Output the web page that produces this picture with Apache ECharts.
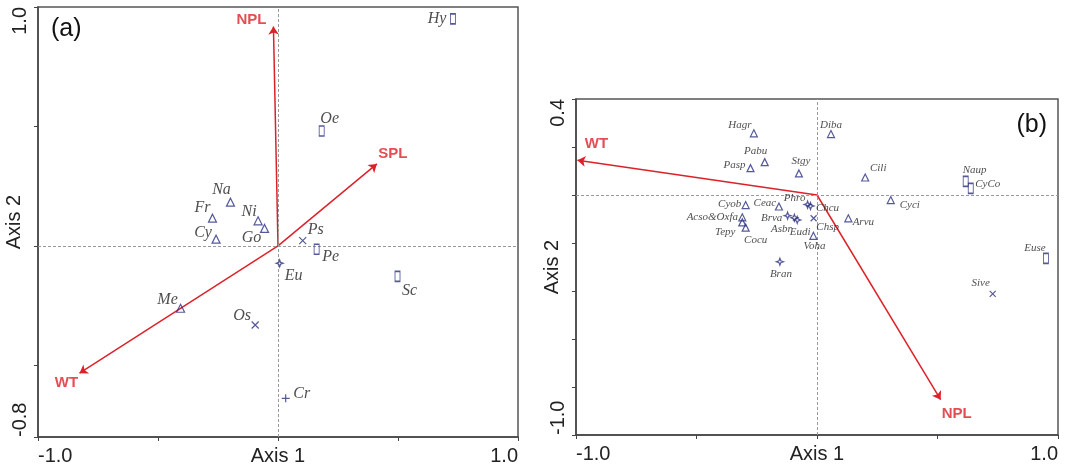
<!DOCTYPE html>
<html><head><meta charset="utf-8">
<script src="https://cdn.jsdelivr.net/npm/echarts@6/dist/echarts.min.js"></script>
<style>html,body{margin:0;padding:0;background:#fff}#c{width:1067px;height:470px}</style>
</head><body><div id="c"></div>
<script>
// ---------- Panel (a) data ----------
const aTriNames = ['Na','Fr','Ni','Go','Cy','Me'];
const aTriX = [-0.198,-0.273,-0.083,-0.056,-0.258,-0.406];
const aTriY = [0.183,0.116,0.105,0.073,0.028,-0.261];
const aRectNames = ['Hy','Oe','Pe','Sc'];
const aRectX = [0.729,0.182,0.161,0.498];
const aRectY = [0.950,0.481,-0.014,-0.128];
const aCrossNames = ['Ps','Os'];
const aCrossX = [0.103,-0.095];
const aCrossY = [0.022,-0.331];
const aStarNames = ['Eu'];
const aStarX = [0.007];
const aStarY = [-0.073];
const aPlusNames = ['Cr'];
const aPlusX = [0.032];
const aPlusY = [-0.638];
const aArrowNames = ['NPL','SPL','WT'];
const aArrowX = [-0.019,0.412,-0.827];
const aArrowY = [0.918,0.343,-0.533];
const aXTicks = [-1.0,-0.5,0,0.5,1.0];
const aYTicks = [-0.8,-0.5,0,0.5,1.0];
const aXTickLabels = [-1.0,1.0];
const aYTickLabels = [-0.8,1.0];

// ---------- Panel (b) data ----------
const bTriNames = ['Hagr','Diba','Pabu','Pasp','Stgy','Cili','Cyci','Cyob','Ceac','Acso&Oxfa','Tepy','Cocu','Voha','Arvu'];
const bTriX = [-0.262,0.058,-0.217,-0.276,-0.075,0.200,0.306,-0.296,-0.158,-0.310,-0.310,-0.296,-0.015,0.130];
const bTriY = [0.257,0.254,0.137,0.112,0.090,0.073,-0.021,-0.042,-0.048,-0.093,-0.114,-0.136,-0.170,-0.097];
const bRectNames = ['Naup','CyCo','Euse'];
const bRectX = [0.617,0.638,0.950];
const bRectY = [0.057,0.028,-0.264];
const bCrossNames = ['Chsp','Sive'];
const bCrossX = [-0.014,0.729];
const bCrossY = [-0.097,-0.412];
const bStarNames = ['Phro','Chcu','Brva','Asbr','Eudi','Bran'];
const bStarX = [-0.039,-0.027,-0.122,-0.094,-0.082,-0.154];
const bStarY = [-0.040,-0.046,-0.086,-0.095,-0.104,-0.278];
const bArrowNames = ['WT','NPL'];
const bArrowX = [-0.994,0.513];
const bArrowY = [0.145,-0.853];
const bXTicks = [-1.0,-0.5,0,0.5,1.0];
const bYTicks = [-1.0,-0.8,-0.6,-0.4,-0.2,0,0.2,0.4];
const bXTickLabels = [-1.0,1.0];
const bYTickLabels = [-1.0,0.4];

// ---------- label placement (style) ----------
const labelOffset = {
  Hy:[-16,0], Oe:[8,-12], Na:[-9,-12], Fr:[-10,-10], Ni:[-9,-9], Go:[-13,9], Cy:[-13,-6],
  Ps:[13,-11], Pe:[14,8], Eu:[14,12], Sc:[12,14], Me:[-13,-8], Os:[-13,-9], Cr:[16,-5],
  Hagr:[-14,-8], Diba:[0,-9], Pabu:[-9,-11], Pasp:[-16,-3], Stgy:[2,-12], Cili:[13,-9],
  Cyci:[19,5], Cyob:[-16,-1], Ceac:[-14,-3], Phro:[-13,-6], Chcu:[17,2], 'Acso&Oxfa':[-30,0],
  Tepy:[-17,10], Cocu:[10,12], Brva:[-16,2], Asbr:[-13,11], Eudi:[3,12], Chsp:[14,9],
  Voha:[1,10], Arvu:[15,4], Bran:[1,12], Naup:[9,-11], CyCo:[17,-4], Euse:[-11,-10], Sive:[-12,-11]
};
const arrowLabelOffset = { a:{NPL:[-22,-7], SPL:[16,-10], WT:[-13,10]}, b:{WT:[19,-16], NPL:[16,14]} };

const NAVY = '#2b3080';
const RED = '#dc2229';
const SYM = {
  tri: 'triangle',
  rect: 'rect',
  cross: 'path://M0 0 L10 10 M10 0 L0 10',
  plus: 'path://M5 0 L5 10 M0 5 L10 5',
  star: 'path://M5 0 L6.3 3.7 L10 5 L6.3 6.3 L5 10 L3.7 6.3 L0 5 L3.7 3.7 Z'
};

function scatter(names, xs, ys, sym, size, gi, fontSize) {
  return {
    type: 'scatter', xAxisIndex: gi, yAxisIndex: gi, symbol: SYM[sym], symbolSize: size,
    itemStyle: { color: 'rgba(0,0,0,0)', borderColor: NAVY, borderWidth: 1.2 },
    data: names.map((n,i)=>({ name:n, value:[xs[i], ys[i]],
      label:{ offset: labelOffset[n] || [0,0] } })),
    label: { show:true, position:'inside', formatter:'{b}', color:'#222',
      fontFamily:'Liberation Serif', fontStyle:'italic', fontSize: fontSize },
    emphasis: { disabled: true }, z: 5
  };
}
function arrows(names, xs, ys, gi, key) {
  return [{
    type:'lines', coordinateSystem:'cartesian2d', xAxisIndex:gi, yAxisIndex:gi,
    symbol:['none','arrow'], symbolSize:8,
    lineStyle:{ color:RED, width:1.5, opacity:1 },
    data: names.map((n,i)=>({ coords:[[0,0],[xs[i],ys[i]]] })), z:4
  },{
    type:'scatter', xAxisIndex:gi, yAxisIndex:gi, symbolSize:0,
    data: names.map((n,i)=>({ name:n, value:[xs[i],ys[i]], label:{ offset: arrowLabelOffset[key][n] } })),
    label:{ show:true, position:'inside', formatter:'{b}', color:RED, fontWeight:'bold',
      fontFamily:'Liberation Sans', fontSize:15 },
    emphasis:{ disabled:true }, z:6
  }];
}
function zeroLines(gi) {
  return {
    type:'scatter', xAxisIndex:gi, yAxisIndex:gi, data:[], silent:true,
    markLine:{ silent:true, symbol:'none', label:{show:false},
      lineStyle:{ color:'#9a9a9a', type:[3,2], width:1 },
      emphasis:{ disabled:true },
      data:[{xAxis:0},{yAxis:0}] }, z:1
  };
}
const fmt = v => v.toFixed(1);
function xAxis(gi, min, max, ticks, labels) {
  return { type:'value', gridIndex:gi, min:min, max:max, name:'Axis 1', nameLocation:'middle', nameGap:9,
    nameMoveOverlap:false,
    nameTextStyle:{ fontFamily:'Liberation Sans', fontSize:20, color:'#222' },
    axisLine:{ show:true, onZero:false, lineStyle:{ color:'#444', width:1.5 } },
    axisTick:{ show:true, length:4, customValues:ticks, lineStyle:{color:'#444'} },
    axisLabel:{ customValues:labels, formatter:fmt, margin:9, fontFamily:'Liberation Sans', fontSize:20, color:'#222',
      alignMinLabel:'left', alignMaxLabel:'right' },
    splitLine:{ show:false } };
}
function yAxis(gi, min, max, ticks, labels, gap) {
  return { type:'value', gridIndex:gi, min:min, max:max, name:'Axis 2', nameLocation:'middle', nameGap:gap,
    nameMoveOverlap:false,
    nameTextStyle:{ fontFamily:'Liberation Sans', fontSize:20, color:'#222' },
    axisLine:{ show:true, onZero:false, lineStyle:{ color:'#444', width:1.5 } },
    axisTick:{ show:true, length:4, customValues:ticks, lineStyle:{color:'#444'} },
    axisLabel:{ customValues:labels, formatter:fmt, rotate:90, margin:8, fontFamily:'Liberation Sans', fontSize:20, color:'#222',
      alignMinLabel:'left', alignMaxLabel:'right' },
    splitLine:{ show:false } };
}

const chart = echarts.init(document.getElementById('c'), null, { renderer:'canvas' });
chart.setOption({
  animation:false,
  backgroundColor:'#fff',
  title:[
    { text:'(a)', left:46, top:12, textStyle:{ fontFamily:'Liberation Sans', fontSize:25, fontWeight:'normal', color:'#111' } },
    { text:'(b)', right:15, top:108, textStyle:{ fontFamily:'Liberation Sans', fontSize:25, fontWeight:'normal', color:'#111' } }
  ],
  grid:[
    { left:38, top:7, width:480, height:430, show:true, borderColor:'#555', borderWidth:1.5, outerBoundsMode:'none', containLabel:false },
    { left:576, top:99, width:482, height:336, show:true, borderColor:'#555', borderWidth:1.5, outerBoundsMode:'none', containLabel:false }
  ],
  xAxis:[ xAxis(0,-1,1,aXTicks,aXTickLabels), xAxis(1,-1,1,bXTicks,bXTickLabels) ],
  yAxis:[ yAxis(0,-0.8,1,aYTicks,aYTickLabels,14), yAxis(1,-1,0.4,bYTicks,bYTickLabels,14) ],
  series:[
    zeroLines(0), zeroLines(1),
    ...arrows(aArrowNames,aArrowX,aArrowY,0,'a'),
    ...arrows(bArrowNames,bArrowX,bArrowY,1,'b'),
    scatter(aTriNames,aTriX,aTriY,'tri',8,0,16),
    scatter(aRectNames,aRectX,aRectY,'rect',[5,10],0,16),
    scatter(aCrossNames,aCrossX,aCrossY,'cross',7,0,16),
    scatter(aStarNames,aStarX,aStarY,'star',7,0,16),
    scatter(aPlusNames,aPlusX,aPlusY,'plus',8,0,16),
    scatter(bTriNames,bTriX,bTriY,'tri',7,1,11),
    scatter(bRectNames,bRectX,bRectY,'rect',[5,10],1,11),
    scatter(bCrossNames,bCrossX,bCrossY,'cross',6,1,11),
    scatter(bStarNames,bStarX,bStarY,'star',7,1,11)
  ]
});
</script></body></html>
